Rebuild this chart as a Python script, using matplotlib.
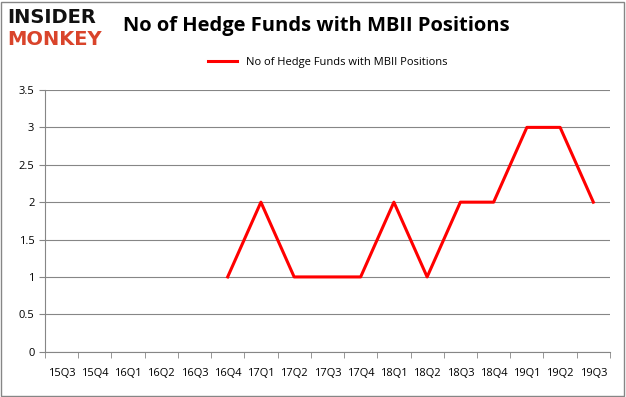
import matplotlib.pyplot as plt
import numpy as np

quarters = ['15Q3', '15Q4', '16Q1', '16Q2', '16Q3', '16Q4', '17Q1', '17Q2', '17Q3',
            '17Q4', '18Q1', '18Q2', '18Q3', '18Q4', '19Q1', '19Q2', '19Q3']
funds = [np.nan, np.nan, np.nan, np.nan, np.nan, 1, 2, 1, 1, 1, 2, 1, 2, 2, 3, 3, 2]
series_name = 'No of Hedge Funds with MBII Positions'

plt.rcParams['font.family'] = ['Open Sans', 'DejaVu Sans']

fig = plt.figure(figsize=(6.26, 3.97), dpi=100)
ax = fig.add_axes([0.0716, 0.1141, 0.9028, 0.6592])

x = np.arange(len(quarters))
ax.plot(x, funds, color='#ff0000', linewidth=2.2, label=series_name)

ax.set_xlim(-0.5, len(quarters) - 0.5)
ax.set_ylim(0, 3.5)
ax.set_yticks(np.arange(0, 3.51, 0.5))
ax.set_yticklabels(['0', '0.5', '1', '1.5', '2', '2.5', '3', '3.5'])
ax.set_xticks(x)
ax.set_xticklabels(quarters)
ax.set_xticks(np.arange(-0.5, len(quarters), 1), minor=True)
ax.tick_params(axis='x', which='major', length=0, pad=12, labelsize=8, labelcolor='#000000')
ax.tick_params(axis='x', which='minor', length=4, color='#868686')
ax.tick_params(axis='y', length=4, color='#868686', labelsize=8, labelcolor='#000000')
ax.grid(axis='y', color='#868686', linewidth=0.8)
ax.set_axisbelow(True)
for s in ['top', 'right']:
    ax.spines[s].set_visible(False)
for s in ['left', 'bottom']:
    ax.spines[s].set_color('#868686')

ax.legend(loc='upper center', bbox_to_anchor=(0.5, 1.165), frameon=False,
          fontsize=8, handlelength=2.6, labelcolor='#000000')

fig.text(0.505, 0.935, 'No of Hedge Funds with MBII Positions', ha='center', va='center',
         fontsize=14.5, fontweight='bold', color='#000000')
fig.text(0.012, 0.957, 'INSIDER', ha='left', va='center', fontsize=14,
         fontweight='heavy', color='#111111', family='DejaVu Sans')
fig.text(0.012, 0.9, 'MONKEY', ha='left', va='center', fontsize=14,
         fontweight='heavy', color='#d9442b', family='DejaVu Sans')

fig.patches.append(plt.Rectangle((0.002, 0.003), 0.995, 0.993, transform=fig.transFigure,
                                 fill=False, edgecolor='#868686', linewidth=1))

fig.savefig('out.png', dpi=100)
